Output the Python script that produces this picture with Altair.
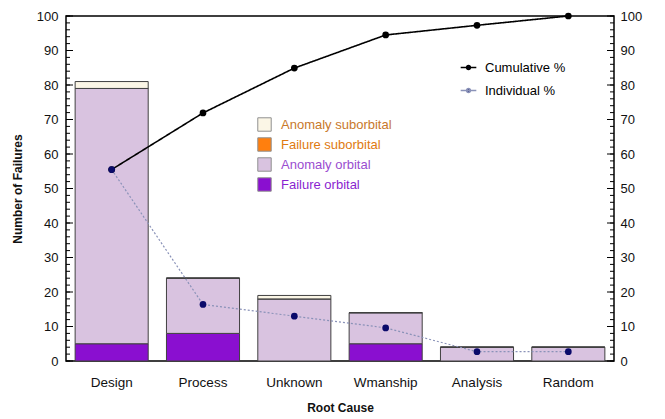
import altair as alt
import pandas as pd

causes = ["Design", "Process", "Unknown", "Wmanship", "Analysis", "Random"]
failure_orbital = [5, 8, 0, 5, 0, 0]
anomaly_orbital = [74, 16, 18, 9, 4, 4]
failure_suborbital = [0, 0, 0, 0, 0, 0]
anomaly_suborbital = [2, 0, 1, 0, 0, 0]
individual_pct = [55.5, 16.4, 13.0, 9.6, 2.7, 2.7]
cumulative_pct = [55.5, 71.9, 84.9, 94.5, 97.3, 100.0]

bar_series = ["Anomaly suborbital", "Failure suborbital", "Anomaly orbital", "Failure orbital"]
bar_colors = ["#fbf6e6", "#ff7f0e", "#d9c3e0", "#8a0fd0"]
stack_order = {"Failure orbital": 0, "Anomaly orbital": 1, "Failure suborbital": 2, "Anomaly suborbital": 3}
line_series = ["Cumulative %", "Individual %"]
major_ticks = list(range(0, 101, 10))
minor_ticks = list(range(0, 101, 2))

W, H = 548, 345
FONT = "Liberation Sans"

rows = []
for i, c in enumerate(causes):
    for name, vals in [("Failure orbital", failure_orbital), ("Anomaly orbital", anomaly_orbital),
                       ("Failure suborbital", failure_suborbital), ("Anomaly suborbital", anomaly_suborbital)]:
        rows.append({"cause": c, "series": name, "count": vals[i], "ord": stack_order[name]})
bars_df = pd.DataFrame(rows)

lines_df = pd.DataFrame(
    [{"cause": c, "series": "Cumulative %", "pct": cumulative_pct[i]} for i, c in enumerate(causes)]
    + [{"cause": c, "series": "Individual %", "pct": individual_pct[i]} for i, c in enumerate(causes)]
)

xenc = alt.X("cause:N", sort=causes, title="Root Cause",
             scale=alt.Scale(paddingInner=0.2, paddingOuter=0.1),
             axis=alt.Axis(labelAngle=0, ticks=False, domain=False, labelPadding=14,
                           titlePadding=14, labelFontSize=13.5))

label_color_expr = ("datum.label == 'Anomaly suborbital' ? '#c8782a' : "
                    "datum.label == 'Failure suborbital' ? '#e07a10' : "
                    "datum.label == 'Anomaly orbital' ? '#9a4cd0' : '#8a1fd0'")

bars = alt.Chart(bars_df).mark_bar(stroke="#404040", strokeWidth=1).encode(
    x=xenc,
    y=alt.Y("sum(count):Q", title="Number of Failures",
            scale=alt.Scale(domain=[0, 100], nice=False),
            axis=alt.Axis(orient="left", values=major_ticks, ticks=False, domain=False,
                          labelPadding=8, titlePadding=12)),
    color=alt.Color("series:N", scale=alt.Scale(domain=bar_series, range=bar_colors),
                    legend=alt.Legend(title=None, orient="none", legendX=191, legendY=101,
                                      symbolType="square", symbolSize=180, symbolStrokeColor="#909090",
                                      symbolStrokeWidth=1, labelFontSize=13, rowPadding=1,
                                      labelOffset=9,
                                      labelColor={"expr": label_color_expr}, labelFont=FONT)),
    order=alt.Order("ord:Q"),
)

line_sym = "M -1.2 0 L 1.2 0 M -0.3 0 A 0.3 0.3 0 1 1 0.3 0 A 0.3 0.3 0 1 1 -0.3 0 Z"

lines = alt.Chart(lines_df).mark_line().encode(
    x=alt.X("cause:N", sort=causes),
    y=alt.Y("pct:Q", scale=alt.Scale(domain=[0, 100], nice=False),
            axis=alt.Axis(orient="right", values=major_ticks, ticks=False, domain=False,
                          title=None, labelPadding=6)),
    color=alt.Color("series:N", scale=alt.Scale(domain=line_series, range=["#000000", "#8a92b8"]),
                    legend=alt.Legend(title=None, orient="none", legendX=395, legendY=44,
                                      symbolType=line_sym, symbolSize=170, symbolStrokeWidth=1.5,
                                      labelFontSize=13, rowPadding=8, labelFont=FONT, labelOffset=9,
                                      symbolFillColor="#101060")),
    strokeDash=alt.StrokeDash("series:N", scale=alt.Scale(domain=line_series, range=[[1, 0], [2, 2]]),
                              legend=None),
    strokeWidth=alt.StrokeWidth("series:N", scale=alt.Scale(domain=line_series, range=[1.6, 1.2]),
                                legend=None),
)

points = alt.Chart(lines_df).mark_circle(size=45, opacity=1).encode(
    x=alt.X("cause:N", sort=causes),
    y=alt.Y("pct:Q", scale=alt.Scale(domain=[0, 100], nice=False), axis=None),
    fill=alt.Fill("series:N", scale=alt.Scale(domain=line_series, range=["#000000", "#0a0a6a"]),
                  legend=None),
)

major_df = pd.DataFrame({"v": major_ticks})
minor_df = pd.DataFrame({"v": minor_ticks})
yt = alt.Y("v:Q", scale=alt.Scale(domain=[0, 100], nice=False), axis=None)
tick_layers = [
    alt.Chart(major_df).mark_rule(color="black", strokeWidth=1).encode(x=alt.value(0), x2=alt.value(7), y=yt),
    alt.Chart(minor_df).mark_rule(color="black", strokeWidth=1).encode(x=alt.value(0), x2=alt.value(4), y=yt),
    alt.Chart(major_df).mark_rule(color="black", strokeWidth=1).encode(x=alt.value(W), x2=alt.value(W - 7), y=yt),
    alt.Chart(minor_df).mark_rule(color="black", strokeWidth=1).encode(x=alt.value(W), x2=alt.value(W - 4), y=yt),
]

chart = alt.layer(bars, lines, points, *tick_layers).resolve_scale(
    y="independent", color="independent"
).properties(
    width=W, height=H, padding={"left": 3, "top": 2, "right": 5, "bottom": 5}
).configure_view(
    stroke="black", strokeWidth=1.5
).configure_axis(
    labelFont=FONT, titleFont=FONT, labelFontSize=13, titleFontSize=12, labelColor="#111",
    titleColor="#111", titleFontWeight="bold", grid=False
).configure_legend(labelFont=FONT)

chart.save("out.html", embed_options={"renderer": "svg", "actions": False})
